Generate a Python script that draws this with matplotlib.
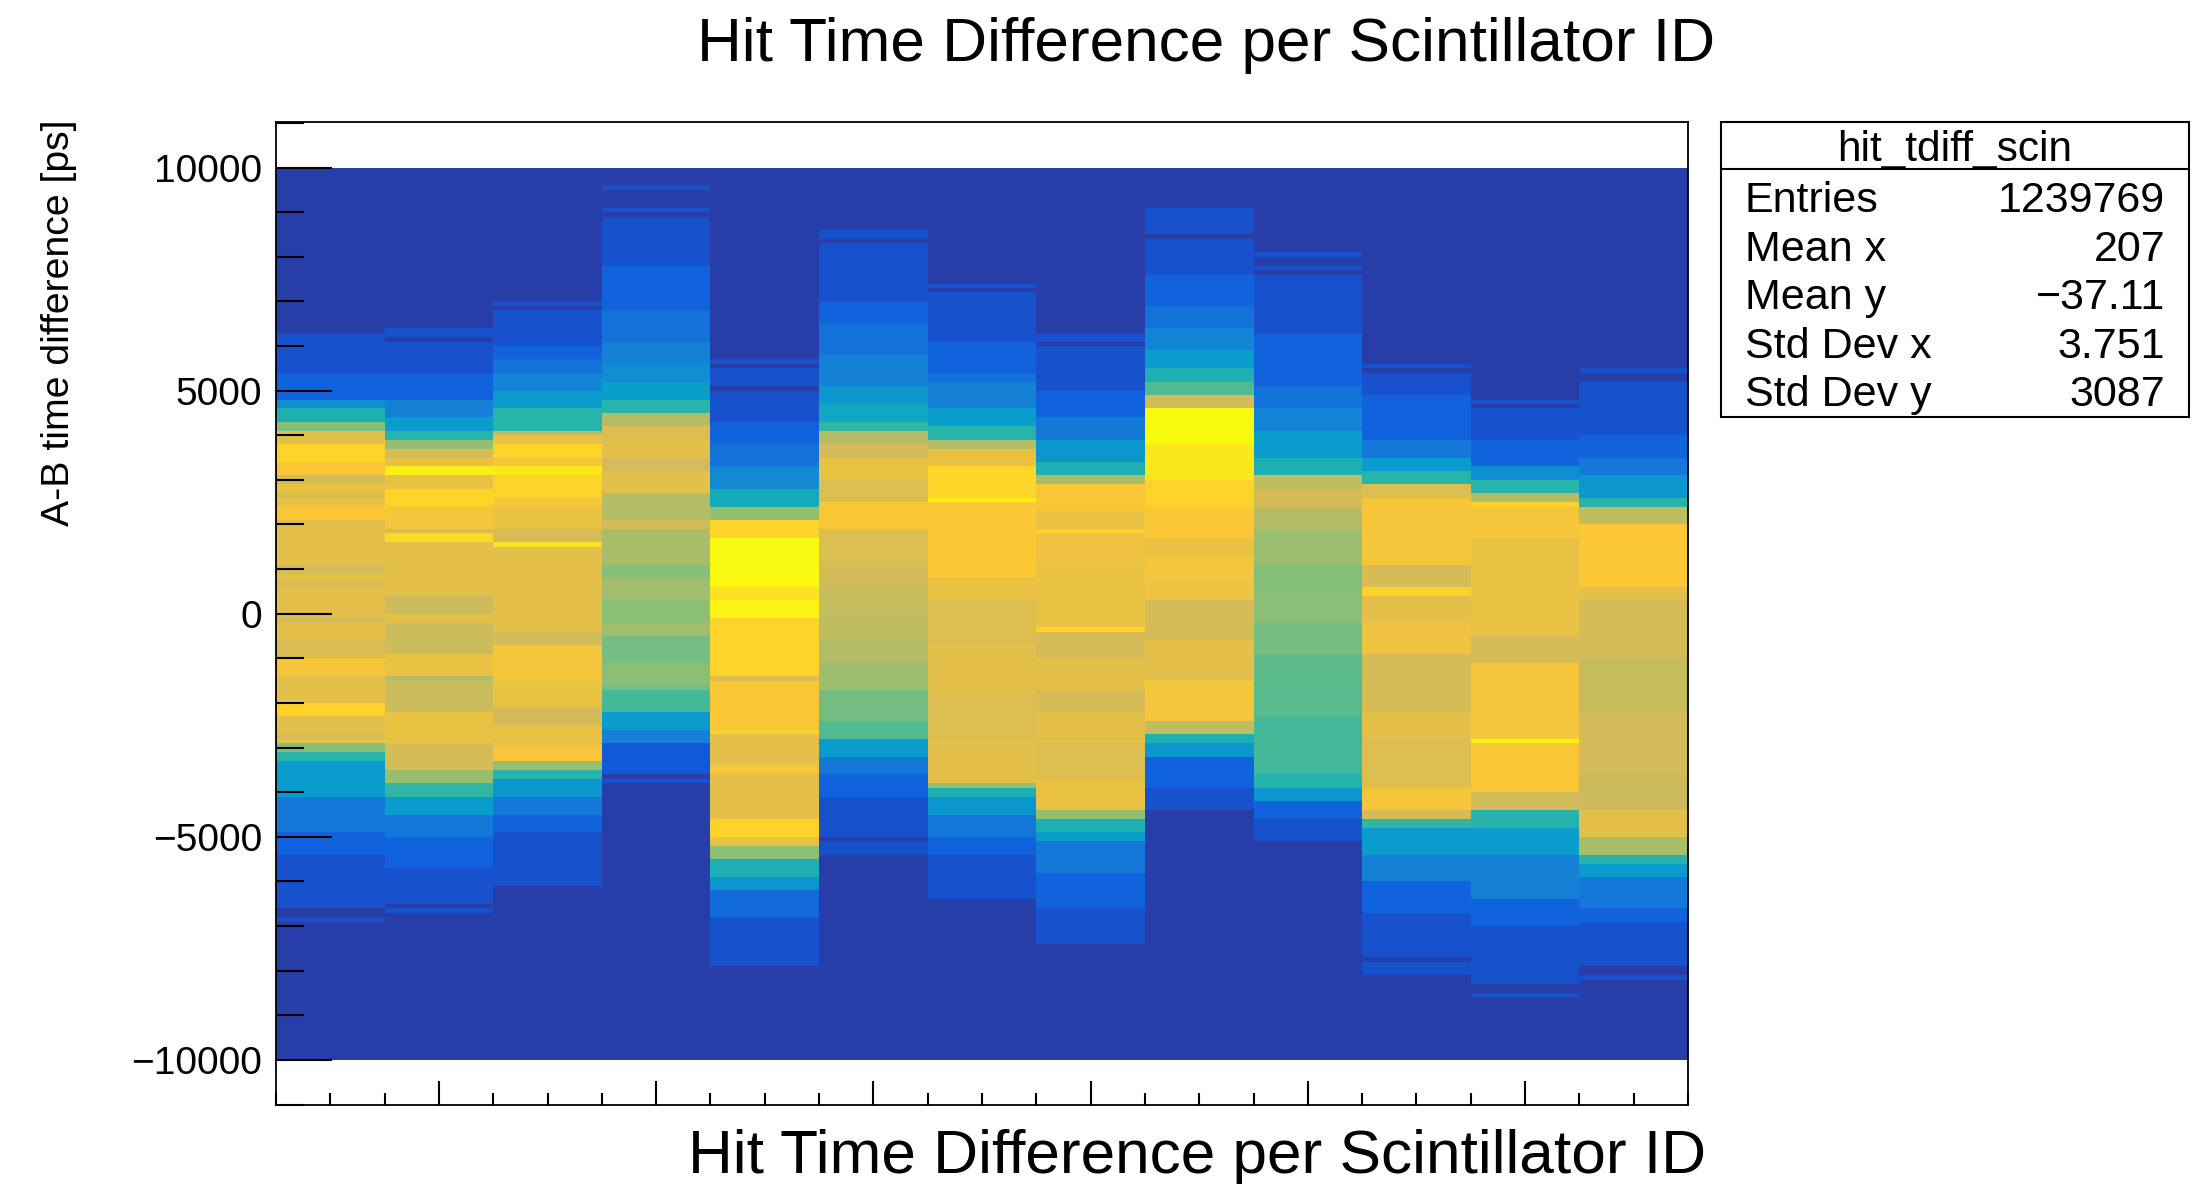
import numpy as np
import matplotlib
matplotlib.use("Agg")
import matplotlib.pyplot as plt
from matplotlib.colors import LinearSegmentedColormap
from matplotlib.ticker import MultipleLocator, FixedLocator, FuncFormatter, NullFormatter
from matplotlib.patches import Rectangle
from matplotlib.lines import Line2D

plt.rcParams['font.family'] = ['Liberation Sans', 'DejaVu Sans']

# ---------------- data ----------------
scin_ids = list(range(201, 214))
y_bin_edges = np.arange(-10000, 10001, 100)   # histogram binning [ps]

# Each column: (upper edge of band [ps], colour level 0..1 of log-scaled content)
id201 = [(10000,0.05),(6300,0.10),(5400,0.15),(4800,0.30),(4600,0.45),(4300,0.62),(4100,0.80),(3800,0.90),
         (3400,0.86),(3100,0.76),(2900,0.82),(2700,0.76),(2600,0.82),(2400,0.86),(2100,0.80),(1100,0.76),
         (900,0.80),(700,0.76),(600,0.80),(-100,0.76),(-200,0.80),(-600,0.77),(-1000,0.85),(-1400,0.80),
         (-2000,0.90),(-2300,0.80),(-2700,0.76),(-2800,0.80),(-2900,0.62),(-3100,0.48),(-3300,0.35),
         (-4100,0.22),(-4900,0.15),(-5400,0.10),(-6600,0.05),(-6800,0.10),(-6900,0.05)]
id202 = [(10000,0.05),(6400,0.10),(6200,0.05),(6100,0.10),(5400,0.15),(4800,0.25),(4400,0.35),(4100,0.48),
         (3900,0.65),(3700,0.76),(3500,0.82),(3300,0.97),(3100,0.82),(2800,0.90),(2400,0.85),(1900,0.76),
         (1800,0.92),(1600,0.80),(400,0.74),(0,0.80),(-200,0.74),(-900,0.82),(-1400,0.70),(-1500,0.74),
         (-2200,0.82),(-2900,0.76),(-3500,0.65),(-3800,0.50),(-4100,0.35),(-4500,0.22),(-5000,0.15),
         (-5700,0.10),(-6500,0.05),(-6600,0.10),(-6700,0.05)]
id203 = [(10000,0.05),(7000,0.10),(6900,0.05),(6800,0.10),(6000,0.15),(5700,0.20),(5400,0.27),(5000,0.35),
         (4600,0.48),(4100,0.72),(4000,0.82),(3800,0.90),(3500,0.85),(3300,0.95),(3100,0.90),(2600,0.85),
         (2400,0.82),(1900,0.76),(1600,0.93),(1500,0.80),(-400,0.76),(-700,0.85),(-1500,0.82),(-2100,0.75),
         (-2500,0.82),(-3000,0.86),(-3300,0.65),(-3500,0.48),(-3700,0.33),(-4100,0.22),(-4500,0.15),
         (-4900,0.10),(-6100,0.05)]
id204 = [(10000,0.05),(9600,0.10),(9500,0.05),(9100,0.10),(9000,0.05),(8900,0.10),(7800,0.15),(6800,0.20),
         (6100,0.25),(5600,0.30),(5200,0.36),(4800,0.48),(4500,0.70),(4200,0.78),(3900,0.80),(3500,0.75),
         (3200,0.80),(2700,0.70),(2100,0.75),(1900,0.68),(1100,0.62),(800,0.67),(300,0.63),(-200,0.67),
         (-500,0.60),(-1100,0.63),(-1600,0.60),(-1700,0.53),(-2200,0.35),(-2600,0.25),(-2900,0.12),
         (-3600,0.05),(-3700,0.10),(-3800,0.05)]
id205 = [(10000,0.05),(5700,0.10),(5600,0.05),(5500,0.10),(5100,0.05),(5000,0.10),(4300,0.15),(3800,0.20),
         (3300,0.28),(2800,0.42),(2400,0.65),(2100,0.90),(1700,0.99),(600,0.93),(300,0.98),(-100,0.90),
         (-1400,0.78),(-1500,0.86),(-2600,0.90),(-2700,0.80),(-3400,0.85),(-3600,0.80),(-4600,0.90),
         (-5000,0.82),(-5200,0.63),(-5500,0.45),(-5900,0.32),(-6200,0.18),(-6800,0.10),(-7900,0.05)]
id206 = [(10000,0.05),(8600,0.10),(8400,0.05),(8300,0.10),(7000,0.15),(6500,0.20),(5800,0.25),(5100,0.33),
         (4700,0.40),(4300,0.50),(4100,0.70),(3800,0.75),(3500,0.82),(3000,0.78),(2500,0.86),(1900,0.78),
         (1100,0.75),(600,0.73),(0,0.72),(-600,0.70),(-1100,0.66),(-1700,0.60),(-2400,0.55),(-2800,0.35),
         (-3200,0.22),(-3600,0.15),(-4100,0.10),(-5000,0.05),(-5100,0.10),(-5400,0.05)]
id207 = [(10000,0.05),(7400,0.10),(7300,0.05),(7200,0.10),(6100,0.15),(5400,0.20),(5200,0.25),(4600,0.35),
         (4200,0.48),(3900,0.70),(3700,0.82),(3300,0.91),(2600,0.97),(2500,0.87),(800,0.82),(300,0.78),
         (-700,0.80),(-1800,0.78),(-2800,0.80),(-3800,0.65),(-3900,0.45),(-4100,0.33),(-4500,0.22),
         (-5000,0.15),(-5400,0.10),(-6400,0.05)]
id208 = [(10000,0.05),(6300,0.10),(6100,0.05),(6000,0.10),(5000,0.15),(4400,0.22),(3900,0.33),(3400,0.45),
         (3100,0.68),(2900,0.86),(2300,0.82),(1900,0.90),(1800,0.83),(1100,0.82),(-300,0.90),(-400,0.76),
         (-1000,0.80),(-1700,0.76),(-2200,0.80),(-2900,0.78),(-3700,0.82),(-4400,0.65),(-4600,0.45),
         (-4900,0.35),(-5100,0.22),(-5800,0.15),(-6600,0.10),(-7400,0.05)]
id209 = [(10000,0.05),(9100,0.10),(8500,0.05),(8400,0.10),(7600,0.15),(6900,0.20),(6400,0.26),(5900,0.35),
         (5500,0.45),(5200,0.55),(4900,0.75),(4600,1.00),(3800,0.95),(3000,0.90),(2400,0.86),(1700,0.82),
         (1300,0.85),(800,0.83),(300,0.76),(-600,0.80),(-1500,0.85),(-2400,0.72),(-2700,0.45),(-2900,0.33),
         (-3200,0.15),(-3900,0.10),(-4400,0.05)]
id210 = [(10000,0.05),(8100,0.10),(8000,0.05),(7800,0.10),(7700,0.05),(7600,0.10),(6300,0.15),(5100,0.20),
         (4600,0.26),(4100,0.35),(3500,0.45),(3100,0.72),(2800,0.76),(2400,0.70),(1900,0.66),(1100,0.62),
         (600,0.63),(-200,0.60),(-900,0.57),(-1500,0.56),(-2300,0.53),(-3600,0.47),(-3900,0.33),
         (-4200,0.15),(-4600,0.10),(-5100,0.05)]
id211 = [(10000,0.05),(5600,0.10),(5500,0.05),(5400,0.10),(4900,0.15),(3900,0.22),(3500,0.35),(3200,0.48),
         (2900,0.78),(2600,0.85),(1100,0.76),(600,0.90),(400,0.80),(-200,0.83),(-900,0.76),(-2200,0.80),
         (-2800,0.78),(-3900,0.85),(-4400,0.76),(-4600,0.50),(-4800,0.35),(-5400,0.25),(-6000,0.15),
         (-6700,0.10),(-7700,0.05),(-7800,0.10),(-8100,0.05)]
id212 = [(10000,0.05),(4800,0.10),(4700,0.05),(4600,0.10),(3900,0.15),(3300,0.30),(3000,0.48),(2700,0.70),
         (2500,0.90),(2400,0.85),(1700,0.82),(-500,0.76),(-1100,0.85),(-2800,0.98),(-2900,0.86),(-4000,0.75),
         (-4400,0.47),(-4800,0.35),(-5400,0.25),(-6400,0.15),(-7000,0.10),(-8300,0.05),(-8500,0.10),(-8600,0.05)]
id213 = [(10000,0.05),(5500,0.10),(5400,0.05),(5200,0.10),(4000,0.15),(3500,0.22),(3100,0.33),(2600,0.48),
         (2400,0.72),(2000,0.87),(600,0.80),(300,0.76),(-1000,0.73),(-2200,0.75),(-3600,0.74),(-4400,0.80),
         (-5000,0.68),(-5400,0.47),(-5600,0.35),(-5900,0.22),(-6600,0.15),(-6900,0.10),(-7900,0.05),
         (-8100,0.10),(-8200,0.05)]

stats_title = "hit_tdiff_scin"
stats_labels = ["Entries", "Mean x", "Mean y", "Std Dev x", "Std Dev y"]
stats_values = ["1239769", "207", "\u221237.11", "3.751", "3087"]

title = "Hit Time Difference per Scintillator ID"
ylabel = "A-B time difference [ps]"

# ---------------- build histogram grid ----------------
columns = [id201, id202, id203, id204, id205, id206, id207, id208, id209, id210, id211, id212, id213]
centers = 0.5 * (y_bin_edges[:-1] + y_bin_edges[1:])
Z = np.zeros((len(centers), len(columns)))
for j, segs in enumerate(columns):
    tops = np.array([s[0] for s in segs], dtype=float)
    levels = np.array([s[1] for s in segs], dtype=float)
    for i, c in enumerate(centers):
        k = np.where(tops >= c)[0][-1]
        Z[i, j] = levels[k]
x_edges = np.arange(scin_ids[0] - 0.5, scin_ids[-1] + 1.0, 1.0)

# ROOT kBird palette
stops = [0.0, 0.125, 0.25, 0.375, 0.5, 0.625, 0.75, 0.875, 1.0]
red = [0.2082, 0.0592, 0.0780, 0.0232, 0.1802, 0.5301, 0.8186, 0.9956, 0.9764]
green = [0.1664, 0.3599, 0.5041, 0.6419, 0.7178, 0.7492, 0.7328, 0.7862, 0.9832]
blue = [0.5293, 0.8684, 0.8385, 0.7914, 0.6425, 0.4662, 0.3499, 0.1968, 0.0539]
bird = LinearSegmentedColormap.from_list("bird", list(zip(stops, zip(red, green, blue))), N=256)

# ---------------- figure ----------------
W, H = 2207, 1184
fig = plt.figure(figsize=(W / 100, H / 100), dpi=100)
fig.patch.set_facecolor("white")

ax = fig.add_axes([276 / W, 1 - 1105 / H, (1688 - 276) / W, (1105 - 122) / H])
ax.pcolormesh(x_edges, y_bin_edges, Z, cmap=bird, vmin=0, vmax=1,
              shading="flat", antialiased=False, edgecolors="none")
ax.set_xlim(x_edges[0], x_edges[-1])
ax.set_ylim(-11010, 11020)

for sp in ax.spines.values():
    sp.set_linewidth(1.3)
    sp.set_color("black")

ax.yaxis.set_major_locator(FixedLocator([-10000, -5000, 0, 5000, 10000]))
ax.yaxis.set_minor_locator(MultipleLocator(1000))
ax.yaxis.set_major_formatter(FuncFormatter(lambda v, p: f"{v:.0f}".replace("-", "\u2212")))
ax.tick_params(axis="y", which="major", direction="in", length=40, width=1.5,
               labelsize=28, pad=10, right=False, left=True)
ax.tick_params(axis="y", which="minor", direction="in", length=20, width=1.5, right=False)

ax.xaxis.set_major_locator(FixedLocator([202, 204, 206, 208, 210, 212]))
ax.xaxis.set_minor_locator(MultipleLocator(0.5))
ax.xaxis.set_major_formatter(NullFormatter())
ax.tick_params(axis="x", which="major", direction="in", length=17, width=1.5,
               top=False, labelbottom=False)
ax.tick_params(axis="x", which="minor", direction="in", length=9, width=1.5, top=False)

# titles
fig.text(1206 / W, 1 - 46 / H, title, ha="center", va="center", fontsize=44.7)
fig.text(1706 / W, 1 - 1157 / H, title, ha="right", va="center", fontsize=44.7)
fig.text(59 / W, 1 - 120 / H, ylabel, ha="center", va="top", rotation=90, fontsize=28.3)

# stats box
bx0, bx1, by0, by1 = 1721, 2189, 122, 417
fig.patches.append(Rectangle((bx0 / W, 1 - by1 / H), (bx1 - bx0) / W, (by1 - by0) / H,
                             transform=fig.transFigure, fill=False, lw=1.5, ec="black"))
fig.lines.append(Line2D([bx0 / W, bx1 / W], [1 - 169 / H, 1 - 169 / H],
                        transform=fig.transFigure, lw=1.5, color="black"))
fig.text((bx0 + bx1) / 2 / W, 1 - 150 / H, stats_title, ha="center", va="center", fontsize=30.5)
row_y = [201, 250, 298, 347, 395]
for lab, val, yy in zip(stats_labels, stats_values, row_y):
    fig.text(1745 / W, 1 - yy / H, lab, ha="left", va="center", fontsize=31)
    fig.text(2165 / W, 1 - yy / H, val, ha="right", va="center", fontsize=31)

fig.savefig("out.png", dpi=100, facecolor="white")
